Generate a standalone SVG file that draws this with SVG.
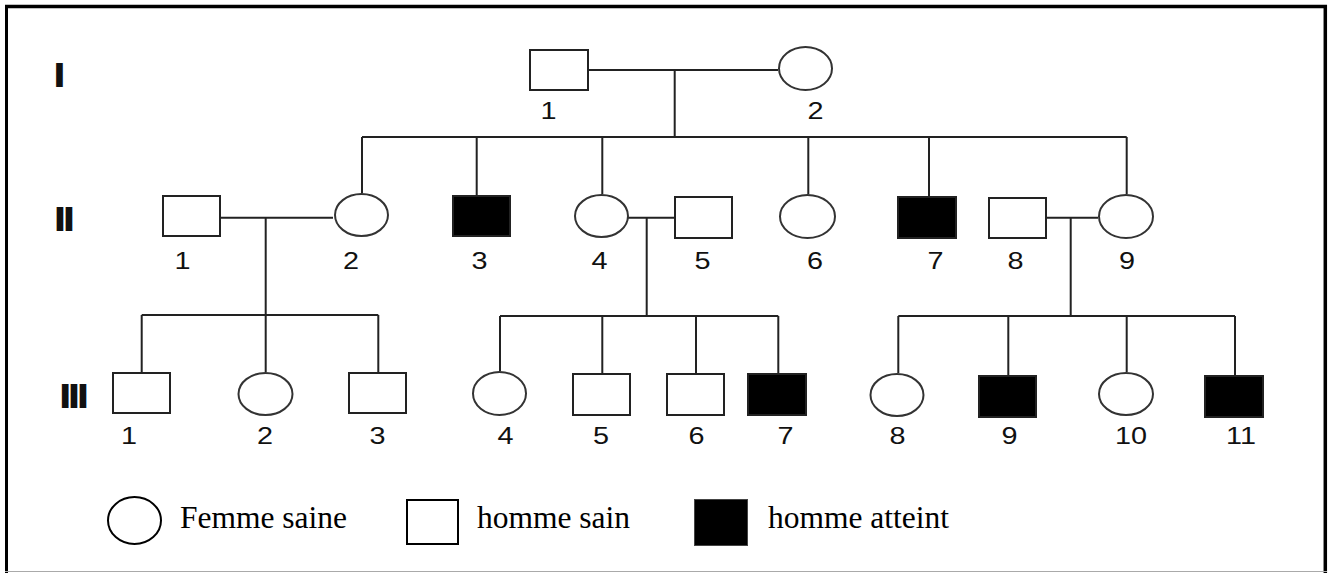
<svg xmlns="http://www.w3.org/2000/svg" width="1330" height="573" viewBox="0 0 1330 573">
<style>
  .m { fill: #fff; stroke: #222; stroke-width: 2; }
  .f { fill: #fff; stroke: #333; stroke-width: 2; }
  .a { fill: #000; stroke: #222; stroke-width: 2; }
  .num { font-family: "Liberation Sans", Arial, sans-serif; font-size: 24px; fill: #111; text-anchor: middle; }
  .gen { font-family: "Liberation Sans", Arial, sans-serif; font-size: 32px; font-weight: bold; fill: #111; stroke: #111; stroke-width: 2; text-anchor: middle; }
  .leg { font-family: "Liberation Serif", "Times New Roman", serif; font-size: 31.5px; fill: #000; }
  .ln { fill: none; stroke: #222; stroke-width: 2; }
</style>
<rect x="0" y="0" width="1330" height="573" fill="#fff"/>
<g id="frame">
  <line x1="5" y1="6.5" x2="1327" y2="6.5" stroke="#000" stroke-width="3.5"/>
  <line x1="6.5" y1="5" x2="6.5" y2="573" stroke="#000" stroke-width="3"/>
  <line x1="1325.3" y1="5" x2="1325.3" y2="573" stroke="#000" stroke-width="3.5"/>
  <line x1="5" y1="571.5" x2="1327" y2="571.5" stroke="#aaa" stroke-width="1.2"/>
</g>
<g id="generations">
  <text class="gen" x="59.5" y="86">I</text>
  <text class="gen" x="64.5" y="230">II</text>
  <text class="gen" x="74" y="407">III</text>
</g>
<g id="connectors">
  <path class="ln" d="M589 70 H778 M674.7 70 V137 M362 137 H1126.7 M362 137 V193 M476.7 137 V195 M602.3 137 V194 M808.3 137 V194 M929 137 V196 M1126.7 137 V194"/>
  <path class="ln" d="M221 217.7 H333 M265.7 217.7 V315 M141.7 315 H378.3 M141.7 315 V372 M265.7 315 V372 M378.3 315 V372"/>
  <path class="ln" d="M628 217.7 H674 M646.7 217.7 V316 M500 316 H778.3 M500 316 V371 M602.3 316 V373 M696 316 V373 M778.3 316 V373"/>
  <path class="ln" d="M1047 217.7 H1098 M1070.7 217.7 V316 M898.3 316 H1235 M898.3 316 V373 M1008.3 316 V375 M1126.7 316 V372 M1235 316 V375"/>
</g>
<g id="I-1"><rect class="m" x="530" y="50" width="58" height="40"/><text class="num" transform="scale(1.2 1)" x="457.08" y="119">1</text></g>
<g id="I-2"><ellipse class="f" cx="805.5" cy="68.5" rx="26.5" ry="21.5"/><text class="num" transform="scale(1.2 1)" x="679.58" y="119">2</text></g>

<g id="II-1"><rect class="m" x="163" y="196" width="57" height="40"/><text class="num" transform="scale(1.2 1)" x="152.08" y="269">1</text></g>
<g id="II-2"><ellipse class="f" cx="361.5" cy="215" rx="26.5" ry="21"/><text class="num" transform="scale(1.2 1)" x="292.5" y="269">2</text></g>
<g id="II-3"><rect class="a" x="453" y="196" width="57" height="40"/><text class="num" transform="scale(1.2 1)" x="399.58" y="269">3</text></g>
<g id="II-4"><ellipse class="f" cx="601.5" cy="216" rx="26.5" ry="21"/><text class="num" transform="scale(1.2 1)" x="499.58" y="269">4</text></g>
<g id="II-5"><rect class="m" x="675" y="197" width="57" height="41"/><text class="num" transform="scale(1.2 1)" x="585.42" y="269">5</text></g>
<g id="II-6"><ellipse class="f" cx="807.5" cy="216.5" rx="27.5" ry="21.5"/><text class="num" transform="scale(1.2 1)" x="679.17" y="269">6</text></g>
<g id="II-7"><rect class="a" x="898" y="197" width="58" height="41"/><text class="num" transform="scale(1.2 1)" x="779.58" y="269">7</text></g>
<g id="II-8"><rect class="m" x="989" y="198" width="57" height="40"/><text class="num" transform="scale(1.2 1)" x="846.25" y="269">8</text></g>
<g id="II-9"><ellipse class="f" cx="1126" cy="216.5" rx="27" ry="21.5"/><text class="num" transform="scale(1.2 1)" x="939.17" y="269">9</text></g>

<g id="III-1"><rect class="m" x="113" y="373" width="57" height="40"/><text class="num" transform="scale(1.2 1)" x="107.5" y="444">1</text></g>
<g id="III-2"><ellipse class="f" cx="265.5" cy="394" rx="27" ry="21"/><text class="num" transform="scale(1.2 1)" x="220.83" y="444">2</text></g>
<g id="III-3"><rect class="m" x="349" y="373" width="57" height="40"/><text class="num" transform="scale(1.2 1)" x="314.58" y="444">3</text></g>
<g id="III-4"><ellipse class="f" cx="499.5" cy="393.5" rx="26.5" ry="21.5"/><text class="num" transform="scale(1.2 1)" x="421.25" y="444">4</text></g>
<g id="III-5"><rect class="m" x="573" y="374" width="57" height="41"/><text class="num" transform="scale(1.2 1)" x="500.83" y="444">5</text></g>
<g id="III-6"><rect class="m" x="667" y="374" width="57" height="41"/><text class="num" transform="scale(1.2 1)" x="580.42" y="444">6</text></g>
<g id="III-7"><rect class="a" x="748" y="374" width="58" height="41"/><text class="num" transform="scale(1.2 1)" x="654.58" y="444">7</text></g>
<g id="III-8"><ellipse class="f" cx="897" cy="395" rx="26.5" ry="21"/><text class="num" transform="scale(1.2 1)" x="747.92" y="444">8</text></g>
<g id="III-9"><rect class="a" x="979" y="376" width="57" height="41"/><text class="num" transform="scale(1.2 1)" x="841.25" y="444">9</text></g>
<g id="III-10"><ellipse class="f" cx="1126" cy="394" rx="27" ry="21"/><text class="num" transform="scale(1.2 1)" x="942.5" y="444">10</text></g>
<g id="III-11"><rect class="a" x="1205" y="376" width="58" height="41"/><text class="num" transform="scale(1.2 1)" x="1034.17" y="444">11</text></g>

<g id="legend">
  <g id="legend-femme"><ellipse cx="134.5" cy="520.5" rx="26.5" ry="23.5" fill="#fff" stroke="#000" stroke-width="2"/><text class="leg" x="180" y="528">Femme saine</text></g>
  <g id="legend-homme"><rect x="407" y="500" width="51" height="44" fill="#fff" stroke="#000" stroke-width="2"/><text class="leg" x="477" y="528">homme sain</text></g>
  <g id="legend-atteint"><rect x="694.5" y="499.5" width="53" height="46" fill="#000" stroke="#444" stroke-width="1"/><text class="leg" x="768" y="528">homme atteint</text></g>
</g>
</svg>
